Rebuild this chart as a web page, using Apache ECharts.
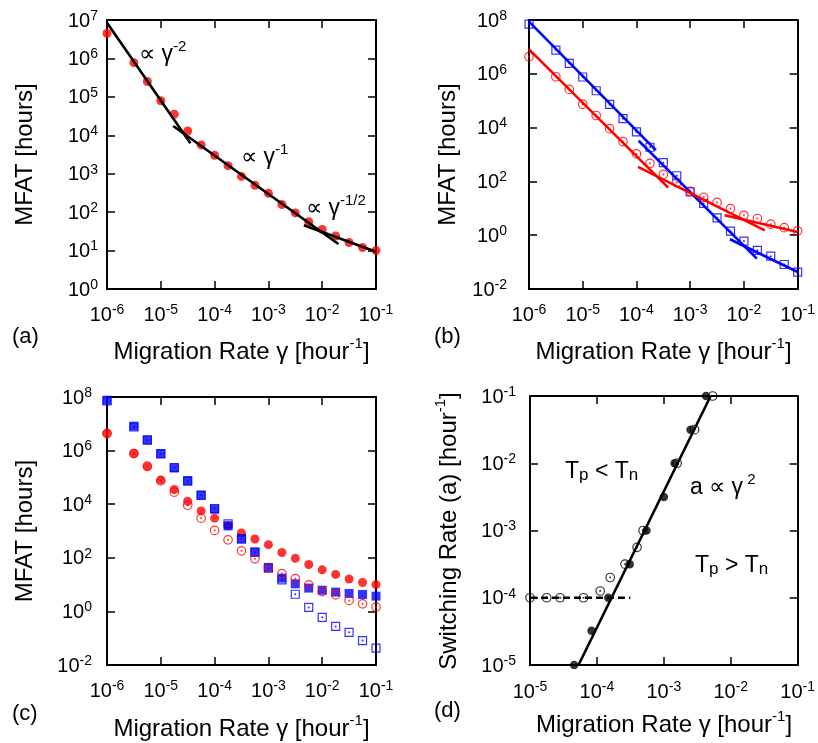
<!DOCTYPE html>
<html><head><meta charset="utf-8">
<script src="https://cdn.jsdelivr.net/npm/echarts@6/dist/echarts.min.js"></script>
<style>html,body{margin:0;padding:0;background:#fff}#c{width:818px;height:743px}</style>
</head><body><div id="c"></div>
<script>
// ---------- data ----------
const gamma = [1e-6, 3.16e-6, 5.62e-6, 1e-5, 1.78e-5, 3.16e-5, 5.62e-5, 1e-4, 1.78e-4, 3.16e-4,
               5.62e-4, 1e-3, 1.78e-3, 3.16e-3, 5.62e-3, 1e-2, 1.78e-2, 3.16e-2, 5.62e-2, 1e-1];
const mfatRedFilled = [4.47e6, 7.76e5, 2.51e5, 7.94e4, 3.55e4, 1.29e4, 5.62e3, 3.02e3, 1.62e3, 851,
                       501, 309, 158, 95.5, 56.2, 35.5, 24.0, 16.2, 12.0, 10.0];
const mfatBlueFilled = [7.59e7, 8.13e6, 2.51e6, 7.76e5, 2.24e5, 7.59e4, 2.19e4, 6.46e3, 1.55e3, 525,
                        162, 43.7, 17.4, 10.7, 7.41, 6.17, 5.25, 4.68, 4.27, 3.72];
const mfatBlueOpen = [7.08e7, 7.59e6, 2.45e6, 7.59e5, 2.34e5, 7.24e4, 2.14e4, 6.92e3, 1.86e3, 501,
                      162, 40.7, 15.1, 4.37, 1.41, 0.603, 0.275, 0.166, 0.0813, 0.0427];
const mfatRedOpen = [4.32e6, 7.76e5, 2.63e5, 7.41e4, 2.82e4, 9.12e3, 3.02e3, 1.05e3, 468, 182,
                     91.2, 42.7, 25.7, 16.6, 9.77, 5.50, 4.17, 2.57, 1.91, 1.45];
// fit lines (endpoints, data units)
const fitA_g2 = [[1e-6, 8.51e6], [3.55e-5, 6.17e3]];
const fitA_g1 = [[1.70e-5, 1.74e4], [2.0e-2, 14.8]];
const fitA_gHalf = [[4.57e-3, 45.7], [0.1, 9.33]];
const fitB_blue1 = [[1e-6, 8.71e7], [2.29e-4, 1.45e3]];
const fitB_blue2 = [[1.10e-4, 3.24e3], [1.74e-2, 0.135]];
const fitB_blue3 = [[5.50e-3, 0.708], [0.1, 0.0427]];
const fitB_red1 = [[1e-6, 8.13e6], [3.89e-4, 58.9]];
const fitB_red2 = [[1.07e-4, 347], [2.45e-2, 1.51]];
const fitB_red3 = [[4.37e-3, 5.50], [0.1, 1.32]];
// panel (d)
const dGammaFilled = [4.57e-5, 8.32e-5, 1.48e-4, 3.09e-4, 5.50e-4, 1.0e-3, 1.45e-3, 2.51e-3, 4.27e-3];
const dRateFilled  = [1e-5, 3.24e-5, 1e-4, 3.16e-4, 1e-3, 3.16e-3, 1e-2, 3.16e-2, 0.1];
const dGammaOpen = [1e-5, 1.78e-5, 2.82e-5, 6.31e-5, 1.12e-4, 1.58e-4, 2.63e-4, 3.98e-4, 4.90e-4, 1.58e-3, 2.88e-3, 5.37e-3];
const dRateOpen  = [1e-4, 1e-4, 1e-4, 1e-4, 1.26e-4, 2.0e-4, 3.16e-4, 5.62e-4, 1e-3, 1e-2, 3.16e-2, 0.1];
const dFit = [[5.31e-5, 1e-5], [5.01e-3, 0.1]];
const dThreshold = [[1e-5, 1e-4], [3.16e-4, 1e-4]];
// axis ranges
const xRangeMFAT = [1e-6, 1e-1];
const yRangeA = [1e0, 1e7];
const yRangeBC = [1e-2, 1e8];
const xRangeD = [1e-5, 1e-1];
const yRangeD = [1e-5, 1e-1];

// ---------- helpers ----------
const FONT = '"Liberation Sans", Arial, Helvetica, sans-serif';
const zip = (xs, ys) => xs.map((x, i) => [x, ys[i]]);
const richTick = {
  b: {fontSize: 20, fontFamily: FONT, color: '#000', lineHeight: 22, verticalAlign: 'bottom'},
  s: {fontSize: 14, fontFamily: FONT, color: '#000', lineHeight: 14, verticalAlign: 'top'}
};
function fmtPow(v) { const e = Math.round(Math.log10(v)); return '{b|10}{s|' + e + '}'; }
function mkAxis(grid, pos, range, interval, showLabel, margin) {
  return {
    type: 'log', logBase: 10, gridIndex: grid, position: pos,
    min: range[0], max: range[1], interval: interval,
    axisLine: {show: true, onZero: false, lineStyle: {color: '#000', width: 2}},
    axisTick: {show: true, inside: true, length: 8, lineStyle: {color: '#000', width: 1.5}},
    minorTick: {show: false}, splitLine: {show: false},
    axisLabel: {show: showLabel, formatter: fmtPow, rich: richTick, margin: margin, color: '#000',
                showMinLabel: true, showMaxLabel: true}
  };
}
const xAxes = [], yAxes = [];
function addGrid(g, xr, xi, yr, yi, xm, ym) {
  xAxes.push(mkAxis(g, 'bottom', xr, xi, true, xm));
  xAxes.push(mkAxis(g, 'top', xr, xi, false, 8));
  yAxes.push(mkAxis(g, 'left', yr, yi, true, ym));
  yAxes.push(mkAxis(g, 'right', yr, yi, false, 8));
}
addGrid(0, xRangeMFAT, 1, yRangeA, 1, 14, 9);
addGrid(1, xRangeMFAT, 1, yRangeBC, 2, 14, 22);
addGrid(2, xRangeMFAT, 1, yRangeBC, 2, 14, 15);
addGrid(3, xRangeD, 1, yRangeD, 1, 15, 14);

const series = [];
function scat(g, data, opt) {
  series.push(Object.assign({type: 'scatter', xAxisIndex: 2 * g, yAxisIndex: 2 * g, data: data,
    clip: false, silent: true, animation: false}, opt));
}
function openScat(g, data, symbol, size, color) {
  scat(g, data, {symbol: symbol, symbolSize: size,
    itemStyle: {color: 'rgba(0,0,0,0)', borderColor: color, borderWidth: 1.2}});
  scat(g, data, {symbol: 'circle', symbolSize: 2, itemStyle: {color: color}});
}
function line(g, data, color, dashed) {
  series.push({type: 'line', xAxisIndex: 2 * g, yAxisIndex: 2 * g, data: data, showSymbol: false,
    symbol: 'none', silent: true, animation: false, clip: false,
    lineStyle: {color: color, width: 2.6, type: dashed ? [7, 4] : 'solid', cap: 'butt'}});
}
const RED = '#ff0000', BLUE = '#0000ff', BLACK = '#000000';
// (a)
scat(0, zip(gamma, mfatRedFilled), {symbol: 'circle', symbolSize: 9, itemStyle: {color: RED}});
line(0, fitA_g2, BLACK); line(0, fitA_g1, BLACK); line(0, fitA_gHalf, BLACK);
// (b)
openScat(1, zip(gamma, mfatBlueOpen), 'rect', 8, BLUE);
openScat(1, zip(gamma, mfatRedOpen), 'circle', 8.5, RED);
line(1, fitB_blue1, BLUE); line(1, fitB_blue2, BLUE); line(1, fitB_blue3, BLUE);
line(1, fitB_red1, RED); line(1, fitB_red2, RED); line(1, fitB_red3, RED);
// (c)
scat(2, zip(gamma, mfatRedFilled), {symbol: 'circle', symbolSize: 9, itemStyle: {color: RED}});
scat(2, zip(gamma, mfatBlueFilled), {symbol: 'rect', symbolSize: 9, itemStyle: {color: BLUE}});
openScat(2, zip(gamma, mfatBlueOpen), 'rect', 8, BLUE);
openScat(2, zip(gamma, mfatRedOpen), 'circle', 8.5, RED);
// (d)
line(3, dThreshold, BLACK, true);
line(3, dFit, BLACK);
openScat(3, zip(dGammaOpen, dRateOpen), 'circle', 8.5, BLACK);
scat(3, zip(dGammaFilled, dRateFilled), {symbol: 'circle', symbolSize: 8.5, itemStyle: {color: BLACK}});

// ---------- texts ----------
const R = {
  t: {fontSize: 24, fontFamily: FONT, fill: '#000', lineHeight: 28, verticalAlign: 'bottom'},
  ts: {fontSize: 15, fontFamily: FONT, fill: '#000', lineHeight: 15, verticalAlign: 'top'},
  m: {fontSize: 23, fontFamily: FONT, fill: '#000', lineHeight: 27, verticalAlign: 'bottom'},
  sup: {fontSize: 15, fontFamily: FONT, fill: '#000', lineHeight: 15, verticalAlign: 'top'},
  sub: {fontSize: 17, fontFamily: FONT, fill: '#000', lineHeight: 17, verticalAlign: 'bottom', padding: [6, 0, 0, 0]},
  p: {fontSize: 22, fontFamily: FONT, fill: '#000', lineHeight: 26}
};
function txt(x, y, text, opt) {
  return Object.assign({type: 'text', x: x, y: y, silent: true,
    style: Object.assign({text: text, rich: R, align: 'left', verticalAlign: 'middle', fill: '#000',
      fontSize: 22, fontFamily: FONT}, (opt && opt.style) || {})},
    opt && opt.rotation ? {rotation: opt.rotation} : {});
}
const xTitle = '{t|Migration Rate γ [hour}{ts|-1}{t|]}';
const yTitle = '{t|MFAT [hours]}';
const graphics = [
  txt(241.5, 350, xTitle, {style: {align: 'center'}}),
  txt(663.5, 350, xTitle, {style: {align: 'center'}}),
  txt(241.5, 727, xTitle, {style: {align: 'center'}}),
  txt(664, 723, xTitle, {style: {align: 'center'}}),
  txt(23, 154.5, yTitle, {rotation: Math.PI / 2, style: {align: 'center'}}),
  txt(446, 154.5, yTitle, {rotation: Math.PI / 2, style: {align: 'center'}}),
  txt(23, 531, yTitle, {rotation: Math.PI / 2, style: {align: 'center'}}),
  txt(447, 531, '{t|Switching Rate (a) [hour}{ts|-1}{t|]}', {rotation: Math.PI / 2, style: {align: 'center'}}),
  txt(12, 337, '{p|(a)}'), txt(434, 337, '{p|(b)}'), txt(12, 714, '{p|(c)}'), txt(434, 711, '{p|(d)}'),
  txt(139, 53, '{m|∝ γ}{sup|-2}'),
  txt(241, 156, '{m|∝ γ}{sup|-1}'),
  txt(306, 207, '{m|∝ γ}{sup|-1/2}'),
  txt(565, 470, '{m|T}{sub|p}{m| < T}{sub|n}'),
  txt(690, 486, '{m|a ∝ γ}{sup| 2}'),
  txt(695, 564, '{m|T}{sub|p}{m| > T}{sub|n}')
];

const chart = echarts.init(document.getElementById('c'), null, {renderer: 'canvas'});
chart.setOption({
  animation: false,
  backgroundColor: '#fff',
  grid: [
    {left: 107, top: 20, width: 269, height: 269},
    {left: 529, top: 20, width: 269, height: 269},
    {left: 107, top: 397, width: 269, height: 268},
    {left: 530, top: 396, width: 268, height: 269}
  ],
  xAxis: xAxes,
  yAxis: yAxes,
  series: series,
  graphic: graphics
});
</script></body></html>
